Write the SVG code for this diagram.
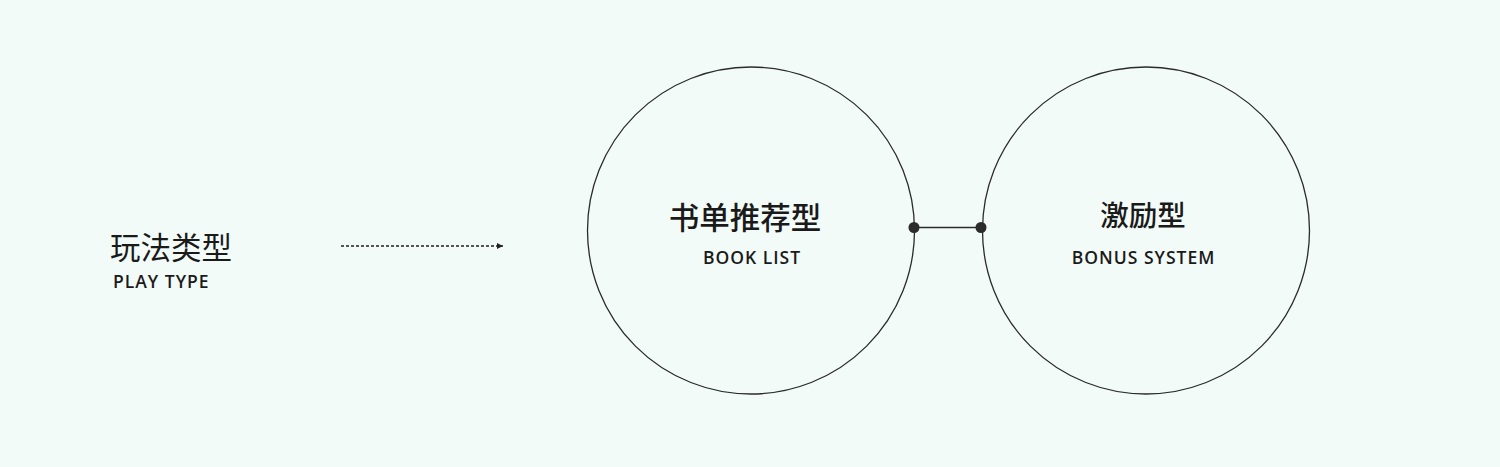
<svg xmlns="http://www.w3.org/2000/svg" width="1500" height="467" viewBox="0 0 1500 467">
<defs>
<style>
.bg{fill:#f3fbf8}
.circle{fill:none;stroke:#2b2b2b;stroke-width:1.3}
.cn{font-family:"Noto Sans CJK SC","Noto Sans",sans-serif;fill:#1a1a1a}
.en{font-family:"Open Sans","Noto Sans",sans-serif;fill:#1a1a1a;font-weight:600;font-size:17.5px;letter-spacing:1px}
.dot{fill:#2b2b2b}
.link{stroke:#2b2b2b;stroke-width:1.5;fill:none}
.dash{stroke:#222;stroke-width:1.3;stroke-dasharray:3 2;fill:none}
</style>
<marker id="ah" markerWidth="8" markerHeight="8" refX="6" refY="3" orient="auto" markerUnits="userSpaceOnUse">
<path d="M0,0 L6,3 L0,6 Z" fill="#222"/>
</marker>
</defs>
<rect class="bg" x="0" y="0" width="1500" height="467"/>
<g id="play-type">
<text class="cn" x="110" y="259" font-size="30.5">玩法类型</text>
<text class="en" x="113" y="288">PLAY TYPE</text>
</g>
<g id="book-list">
<circle class="circle" cx="751" cy="230.5" r="163.5"/>
<text class="cn" x="745" y="229" font-size="30.5" font-weight="500" text-anchor="middle">书单推荐型</text>
<text class="en" x="752" y="264" text-anchor="middle">BOOK LIST</text>
</g>
<g id="bonus-system">
<circle class="circle" cx="1146" cy="230.5" r="163.5"/>
<text class="cn" x="1143" y="226" font-size="28.5" font-weight="500" text-anchor="middle">激励型</text>
<text class="en" x="1143.5" y="264" text-anchor="middle">BONUS SYSTEM</text>
</g>
<g id="connectors">
<line class="dash" x1="341" y1="246" x2="503" y2="246" marker-end="url(#ah)"/>
<line class="link" x1="914" y1="227.5" x2="981" y2="227.5"/>
<circle class="dot" cx="914" cy="227.5" r="5.5"/>
<circle class="dot" cx="981" cy="227.5" r="5.5"/>
</g>
</svg>
